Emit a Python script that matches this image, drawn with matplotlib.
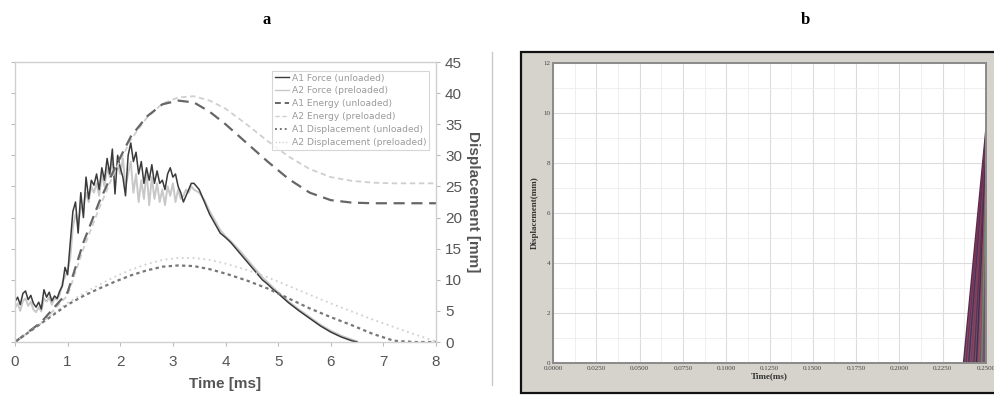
import numpy as np
import matplotlib
matplotlib.use("Agg")
import matplotlib.pyplot as plt
from matplotlib.patches import Rectangle
from matplotlib.lines import Line2D

# ---- panel a data (time in ms, values on the 0-45 scale) ----
t_force = [0.0, 0.05, 0.1, 0.15, 0.2, 0.25, 0.3, 0.35, 0.4, 0.45, 0.5, 0.55, 0.6,
           0.65, 0.7, 0.75, 0.8, 0.85, 0.9, 0.95, 1.0, 1.05, 1.1, 1.15, 1.2, 1.25,
           1.3, 1.35, 1.4, 1.45, 1.5, 1.55, 1.6, 1.65, 1.7, 1.75, 1.8, 1.85, 1.9,
           1.95, 2.0, 2.05, 2.1, 2.15, 2.2, 2.25, 2.3, 2.35, 2.4, 2.45, 2.5, 2.55,
           2.6, 2.65, 2.7, 2.75, 2.8, 2.85, 2.9, 2.95, 3.0, 3.05, 3.1, 3.15, 3.2,
           3.25, 3.3, 3.35, 3.4, 3.5, 3.6, 3.7, 3.8, 3.9, 4.0, 4.1, 4.2, 4.3, 4.4,
           4.5, 4.6, 4.7, 4.8, 4.9, 5.0, 5.2, 5.4, 5.6, 5.8, 6.0, 6.2, 6.4, 6.5]
a1_force = [6.5, 7.2, 6.0, 7.8, 8.2, 6.8, 7.5, 6.2, 5.6, 6.4, 5.3, 8.4, 7.2,
            8.0, 6.6, 7.4, 7.0, 8.2, 9.0, 12.0, 10.8, 16.0, 21.0, 22.5, 17.5, 24.0,
            20.0, 26.5, 23.0, 26.0, 25.2, 27.0, 24.5, 28.0, 26.0, 29.5, 27.0, 31.0, 23.8,
            30.0, 28.0, 26.5, 23.5, 30.0, 32.0, 29.0, 30.5, 27.0, 29.0, 25.5, 28.0, 26.0,
            28.5, 25.5, 27.5, 25.5, 26.0, 24.5, 27.0, 28.0, 26.5, 27.0, 25.0, 24.0, 22.5,
            23.5, 24.5, 25.5, 25.5, 24.5, 22.5, 20.5, 19.0, 17.5, 16.8, 16.0, 15.0, 14.0, 13.0,
            12.0, 11.0, 10.0, 9.3, 8.5, 7.8, 6.3, 5.0, 3.8, 2.6, 1.6, 0.8, 0.2, 0.0]
a2_force = [5.5, 6.2, 5.0, 6.6, 7.0, 5.8, 6.5, 5.2, 4.8, 5.6, 4.9, 7.0, 6.5,
            7.2, 6.0, 7.0, 6.8, 7.6, 9.5, 10.5, 11.5, 13.5, 18.5, 20.5, 19.0, 21.5,
            22.0, 24.0, 22.5, 25.0, 24.0, 25.5, 23.5, 27.0, 25.0, 28.0, 26.5, 29.5, 27.0,
            28.5, 27.0, 29.5, 25.0, 27.0, 29.0, 24.0, 27.0, 22.5, 26.0, 23.0, 27.5, 22.0,
            26.5, 23.0, 25.5, 22.5, 24.5, 22.0, 25.0, 23.5, 25.5, 22.5, 24.5, 23.0, 23.5,
            24.5, 24.0, 25.0, 24.5, 24.0, 22.8, 21.0, 19.5, 18.0, 17.0, 16.2, 15.3, 14.4, 13.4,
            12.4, 11.4, 10.4, 9.6, 8.8, 8.0, 6.5, 5.2, 4.0, 2.8, 1.8, 1.0, 0.4, 0.1]

t_curve = [0.0, 0.5, 1.0, 1.3, 1.6, 1.9, 2.2, 2.5, 2.8, 3.1, 3.4, 3.7, 4.0, 4.4,
           4.8, 5.2, 5.6, 6.0, 6.4, 6.8, 7.2, 7.6, 8.0]
a1_energy = [0.0, 3.2, 8.0, 16.0, 22.5, 28.0, 33.0, 36.2, 38.2, 38.8, 38.5, 37.0,
             35.0, 32.0, 29.0, 26.2, 24.0, 22.8, 22.4, 22.3, 22.3, 22.3, 22.3]
a2_energy = [0.0, 3.0, 7.5, 15.0, 21.5, 27.5, 32.5, 36.0, 38.3, 39.3, 39.5, 38.8,
             37.5, 35.0, 32.3, 29.8, 27.8, 26.5, 25.9, 25.6, 25.5, 25.5, 25.5]
a1_disp = [0.0, 3.0, 6.0, 7.4, 8.6, 9.7, 10.7, 11.5, 12.1, 12.3, 12.2, 11.7,
           11.0, 9.9, 8.6, 7.0, 5.4, 4.0, 2.7, 1.3, 0.2, 0.0, 0.0]
a2_disp = [0.0, 3.1, 6.3, 7.8, 9.2, 10.5, 11.6, 12.5, 13.2, 13.5, 13.5, 13.2,
           12.6, 11.6, 10.4, 9.0, 7.6, 6.2, 4.9, 3.6, 2.4, 1.2, 0.1]

legend_labels = ["A1 Force (unloaded)", "A2 Force (preloaded)", "A1 Energy (unloaded)",
                 "A2 Energy (preloaded)", "A1 Displacement (unloaded)",
                 "A2 Displacement (preloaded)"]
x_ticks_a = [0, 1, 2, 3, 4, 5, 6, 7, 8]
y_ticks_a = [0, 5, 10, 15, 20, 25, 30, 35, 40, 45]

# ---- panel b data ----
x_ticks_b = [0.0, 0.025, 0.05, 0.075, 0.1, 0.125, 0.15, 0.175, 0.2, 0.225, 0.25]
y_ticks_b = [0, 2, 4, 6, 8, 10, 12]
# fan of traces that shoot up at the very end of the record
fan_start = [0.2370, 0.2385, 0.2400, 0.2415, 0.2430, 0.2445, 0.2460, 0.2475]
fan_peak = [9.4, 9.2, 9.0, 8.8, 8.5, 8.2, 7.8, 7.3]
fan_colors = ["#5a2a4a", "#7a2f4f", "#4b3060", "#8a3a50", "#603050", "#3f2d55",
              "#a04a5a", "#6a8a6a"]

fig = plt.figure(figsize=(9.94, 3.99), dpi=100)
W, H = 994.0, 399.0


def frac(x0, y0, x1, y1):
    return [x0 / W, 1 - y1 / H, (x1 - x0) / W, (y1 - y0) / H]


grey_txt = "#555555"

# ================= panel a =================
ax = fig.add_axes(frac(15, 62, 436, 342))
ax.plot(t_force, a2_force, color="#c8c8c8", lw=1.4)
ax.plot(t_force, a1_force, color="#3a3a3a", lw=1.1)
ax.plot(t_curve, a2_energy, color="#cfcfcf", lw=1.3, ls=(0, (3, 2)))
ax.plot(t_curve, a1_energy, color="#666666", lw=1.6, ls=(0, (5, 3)))
ax.plot(t_curve, a2_disp, color="#d0d0d0", lw=1.3, ls=(0, (1, 2)))
ax.plot(t_curve, a1_disp, color="#777777", lw=1.6, ls=(0, (1.5, 1.5)))

ax.set_xlim(0, 8)
ax.set_ylim(0, 45)
ax.set_xticks(x_ticks_a)
ax.set_yticks(y_ticks_a)
ax.tick_params(axis="both", colors="#bbbbbb", labelcolor=grey_txt, labelsize=11,
               length=3, width=0.8)
ax.tick_params(axis="y", left=True, right=True, labelleft=False, labelright=True)
ax.tick_params(axis="x", pad=6)
for lab in ax.get_xticklabels() + ax.get_yticklabels():
    lab.set_fontfamily("Liberation Sans")
for s in ax.spines.values():
    s.set_color("#d0d0d0")
    s.set_linewidth(1.0)
ax.set_xlabel("Time [ms]", fontsize=11, fontweight="bold", color=grey_txt,
              family="Liberation Sans", labelpad=6)
ax.yaxis.set_label_position("right")
ax.set_ylabel("Displacement [mm]", fontsize=11, fontweight="bold", color=grey_txt,
              family="Liberation Sans", rotation=270, labelpad=13)

handles = [
    Line2D([], [], color="#3a3a3a", lw=1.0),
    Line2D([], [], color="#c8c8c8", lw=1.0),
    Line2D([], [], color="#666666", lw=1.4, ls=(0, (3, 2))),
    Line2D([], [], color="#cfcfcf", lw=1.0, ls=(0, (3, 2))),
    Line2D([], [], color="#777777", lw=1.4, ls=(0, (1, 1.5))),
    Line2D([], [], color="#d0d0d0", lw=1.0, ls=(0, (1, 1.5))),
]
leg = ax.legend(handles, legend_labels, loc="upper right", bbox_to_anchor=(0.995, 0.985),
                fontsize=6.6, frameon=True, fancybox=False, handlelength=1.6,
                handletextpad=0.3, labelspacing=0.42, borderpad=0.3, labelcolor="#9a9a9a")
leg.get_frame().set_edgecolor("#cccccc")
leg.get_frame().set_linewidth(0.8)

# divider between the two panels
fig.add_artist(Line2D([492 / W, 492 / W], [1 - 52 / H, 1 - 385 / H], color="#c8c8c8", lw=1.0))

# titles
fig.text(267 / W, 1 - 20 / H, "a", ha="center", va="center", fontsize=12,
         fontweight="bold", family="Liberation Serif")
fig.text(805 / W, 1 - 20 / H, "b", ha="center", va="center", fontsize=12,
         fontweight="bold", family="Liberation Serif")

# ================= panel b =================
fig.add_artist(Rectangle((521 / W, 1 - 393 / H), (1000 - 521) / W, (393 - 52) / H,
                         transform=fig.transFigure, facecolor="#d6d3cc",
                         edgecolor="#111111", lw=1.6, zorder=0))

bx = fig.add_axes(frac(553, 63, 986, 363))
bx.set_facecolor("white")
bx.set_xlim(0, 0.25)
bx.set_ylim(0, 12)
bx.set_xticks(x_ticks_b)
bx.set_xticklabels([f"{v:.4f}" for v in x_ticks_b])
bx.set_yticks(y_ticks_b)
bx.set_xticks([v + 0.0125 for v in x_ticks_b[:-1]], minor=True)
bx.set_yticks([v + 1 for v in y_ticks_b[:-1]], minor=True)
bx.grid(True, which="major", color="#dcdcdc", lw=0.8)
bx.grid(True, which="minor", color="#ededed", lw=0.6)
bx.set_axisbelow(True)
bx.tick_params(axis="both", which="both", length=0)
bx.tick_params(axis="both", labelsize=5, labelcolor="#444444", pad=2)
for lab in bx.get_xticklabels() + bx.get_yticklabels():
    lab.set_fontfamily("Liberation Serif")
for s in bx.spines.values():
    s.set_color("#8a8a8a")
    s.set_linewidth(1.4)
bx.set_xlabel("Time(ms)", fontsize=6.5, fontweight="bold", family="Liberation Serif",
              color="#333333", labelpad=1)
bx.set_ylabel("Displacement(mm)", fontsize=6.5, fontweight="bold", family="Liberation Serif",
              color="#333333", labelpad=3)

bx.fill([fan_start[0], 0.25, 0.25], [0, fan_peak[0], 0], color="#5b3552", alpha=0.85, lw=0)
for x0, yp, c in zip(fan_start, fan_peak, fan_colors):
    bx.plot([x0, 0.25], [0, yp], color=c, lw=1.0)

fig.savefig("out.png", dpi=100)
